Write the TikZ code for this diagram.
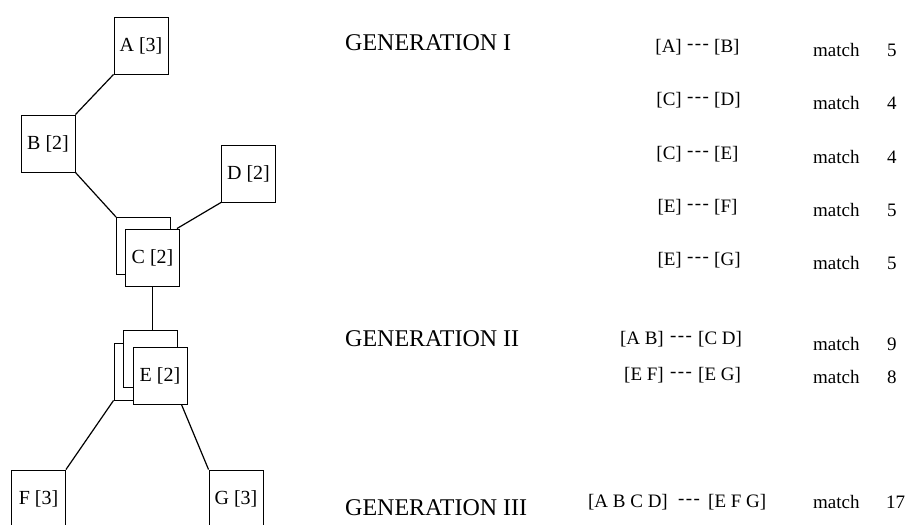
\documentclass[tikz,border=0pt]{standalone}
\usepackage{fontspec}
\setmainfont{Liberation Serif}
\usetikzlibrary{calc}
\newcommand\ddash{-\kern1.5pt-\kern1.5pt-}
\begin{document}
\begin{tikzpicture}[x=1pt,y=-1pt,
  box/.style={draw,line width=0.9pt,fill=white,minimum width=54pt,minimum height=57pt,inner sep=0pt,font=\fontsize{20}{20}\selectfont},
  link/.style={line width=1.2pt},
  thinlink/.style={line width=0.6pt},
  gen/.style={anchor=west,inner sep=0pt,font=\fontsize{24}{24}\selectfont},
  pr/.style={inner sep=0pt,font=\fontsize{19}{19}\selectfont},
]
\useasboundingbox (0,0) rectangle (906,525);
\begin{scope}
\clip (0,0) rectangle (906,525);
% boxes
\node[box] (A) at (141,45.5) {A [3]};
\node[box] (B) at (48,143.5) {B [2]};
\node[box] (D) at (248.5,173.5) {D [2]};
\node[box] (Cb) at (143.5,246) {};
\node[box] (C) at (152.5,257.5) {C [2]};
\node[box] (E2) at (141,371.5) {};
\node[box] (E1) at (150,358.5) {};
\node[box] (E) at (160,375.5) {E [2]};
\node[box] (F) at (38.5,498.5) {F [3]};
\node[box] (G) at (236,498.5) {G [3]};
% connectors
\draw[link] (A.south west) -- (B.north east);
\draw[link] (B.south east) -- (Cb.north west);
\draw[link] (D.south west) -- ($(C.north east)+(-3,0)$);
\draw[thinlink] (C.south) -- (C.south |- E1.north);
\draw[link] (E2.south west) -- (F.north east);
\draw[link] ($(E.south east)+(-6,0)$) -- (G.north west);
\end{scope}
% generation labels
\node[gen] (g1) at (345,43) {GENERATION I};
\node[gen] (g2) at (345,339) {GENERATION II};
\node[gen] (g3) at (345,508) {GENERATION III};
% pairings
\foreach \i/\y/\l/\r/\n in {1/47/A/B/5, 2/100/C/D/4, 3/154/C/E/4, 4/207/E/F/5, 5/260/E/G/5}{
  \node[pr,anchor=east] (l\i) at (682,\y) {[\l]};
  \node[pr] (d\i) at (698,\y) {\ddash};
  \node[pr,anchor=west] (r\i) at (714,\y) {[\r]};
  \node[pr,anchor=west] (m\i) at (813,\y+3) {match};
  \node[pr,anchor=west] (n\i) at (887,\y+3) {\n};
}
\node[pr,anchor=east] (l6) at (664,339) {[A B]};
\node[pr] (d6) at (681,339) {\ddash};
\node[pr,anchor=west] (r6) at (698,339) {[C D]};
\node[pr,anchor=west] (m6) at (813,344) {match};
\node[pr,anchor=west] (n6) at (887,344) {9};
\node[pr,anchor=east] (l7) at (664,375) {[E F]};
\node[pr] (d7) at (681,375) {\ddash};
\node[pr,anchor=west] (r7) at (698,375) {[E G]};
\node[pr,anchor=west] (m7) at (813,377) {match};
\node[pr,anchor=west] (n7) at (887,377) {8};
\node[pr,anchor=east] (l8) at (668,502) {[A B C D]};
\node[pr] (d8) at (689,502) {\ddash};
\node[pr,anchor=west] (r8) at (708,502) {[E F G]};
\node[pr,anchor=west] (m8) at (813,502) {match};
\node[pr,anchor=west] (n8) at (886,502) {17};
\end{tikzpicture}
\end{document}
